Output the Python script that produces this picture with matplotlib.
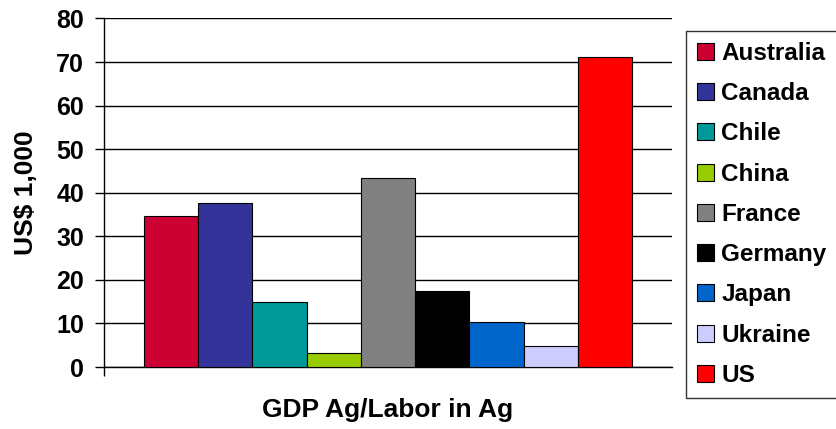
import matplotlib.pyplot as plt
import numpy as np

plt.rcParams['font.family'] = ['Liberation Sans', 'DejaVu Sans']
plt.rcParams['font.weight'] = 'bold'

countries = ['Australia', 'Canada', 'Chile', 'China', 'France', 'Germany', 'Japan', 'Ukraine', 'US']
values = [34.6, 37.6, 15.0, 3.3, 43.3, 17.4, 10.4, 4.8, 71.2]
colors = ['#CC0033', '#333399', '#009999', '#99CC00', '#808080', '#000000', '#0066CC', '#CCCCFF', '#FF0000']
yticks = [0, 10, 20, 30, 40, 50, 60, 70, 80]

fig = plt.figure(figsize=(8.37, 4.29), dpi=100)
ax = fig.add_axes([0.1243, 0.1445, 0.8029 - 0.1243, 0.9569 - 0.1445])

n = len(countries)
x = np.arange(n) - (n - 1) / 2
bars = []
for i in range(n):
    b = ax.bar(x[i], values[i], width=1.0, color=colors[i], edgecolor='black',
               linewidth=0.8, label=countries[i], zorder=3)
    bars.append(b)

ax.set_xlim(-5.23, 5.23)
ax.set_ylim(0, 80)
ax.set_yticks(yticks)
ax.set_yticklabels([str(t) for t in yticks], fontsize=18, fontweight='bold')
ax.yaxis.grid(True, color='black', linewidth=1, zorder=0)
ax.set_axisbelow(True)
ax.tick_params(axis='y', length=6.5, width=1, direction='out', pad=8)
ax.set_xticks([-5.23])
ax.set_xticklabels([''])
ax.tick_params(axis='x', length=6.5, width=1, direction='out')

for s in ['top', 'right']:
    ax.spines[s].set_visible(False)
ax.spines['left'].set_linewidth(1)
ax.spines['bottom'].set_linewidth(1)

ax.set_ylabel('US$ 1,000', fontsize=19, fontweight='bold', labelpad=13)
ax.set_xlabel('GDP Ag/Labor in Ag', fontsize=19, fontweight='bold', labelpad=12)

leg = fig.legend(handles=[b for b in bars], labels=countries,
                 loc='upper left', bbox_to_anchor=(686 / 837, 1 - 31 / 429),
                 fontsize=17.5, frameon=True, fancybox=False, edgecolor='black',
                 handlelength=0.7, handleheight=0.7, handletextpad=0.3,
                 labelspacing=0.71, borderpad=0.45, borderaxespad=0)
leg.get_frame().set_linewidth(1)
for t in leg.get_texts():
    t.set_fontweight('bold')

fig.savefig('out.png', dpi=100)
